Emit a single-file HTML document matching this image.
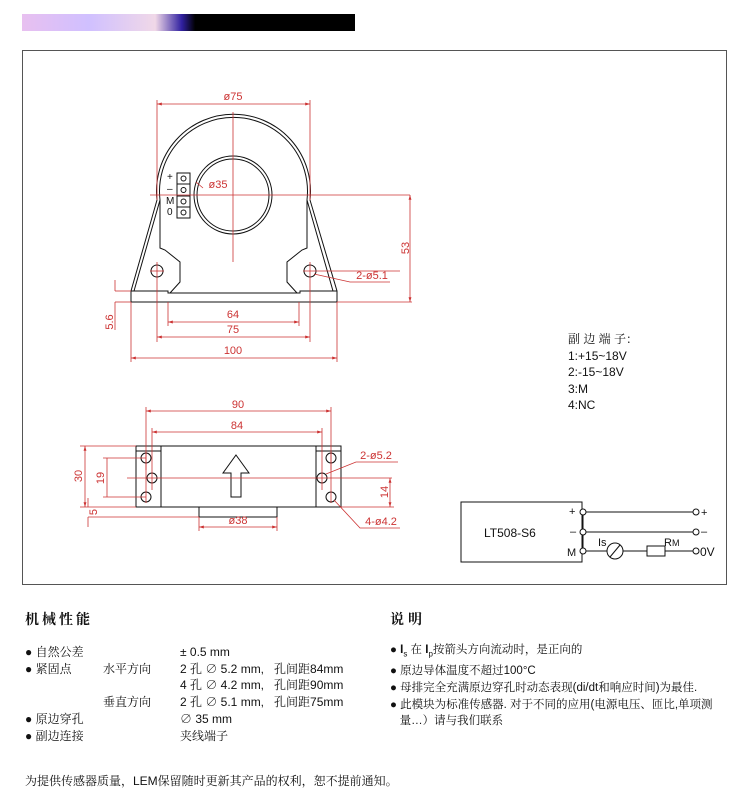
<!DOCTYPE html>
<html><head><meta charset="utf-8"><style>
body{margin:0;background:#fff;width:750px;height:800px;overflow:hidden;font-family:"Liberation Sans","Noto Sans CJK SC",sans-serif}
svg{position:absolute;left:0;top:0}
.t{position:absolute;font-size:12px;color:#111;white-space:nowrap;font-family:"Liberation Sans","Noto Serif CJK SC","Noto Sans CJK SC",sans-serif}
</style></head><body>
<svg width="750" height="800" viewBox="0 0 750 800">
<defs>
<linearGradient id="g" x1="0" x2="1"><stop offset="0" stop-color="#e8c0f0"/><stop offset="0.2" stop-color="#d0c0ff"/><stop offset="0.4" stop-color="#f0d8e8"/><stop offset="0.48" stop-color="#3020a0"/><stop offset="0.52" stop-color="#000"/><stop offset="1" stop-color="#000"/></linearGradient>
<marker id="a" viewBox="0 0 10 10" refX="10" refY="5" markerWidth="6" markerHeight="6" orient="auto-start-reverse"><path d="M0,2 L10,5 L0,8z" fill="#c33"/></marker>
</defs>
<rect x="22" y="14" width="333" height="17" fill="url(#g)"/>
<rect x="22.5" y="50.5" width="704" height="534" fill="none" stroke="#555" stroke-width="1"/>
<g fill="none" stroke="#111" stroke-width="1">
<!-- front view -->
<path d="M157,200 A77,77 0 1 1 310,200 L337,291 L337,302 L131,302 L131,291 Z"/>
<path d="M160,200 A74,74 0 1 1 307,200 L333,291"/>
<path d="M160,200 L134,291"/>
<path d="M131,291 L168,291 L168,293 L300,293 L300,291 L337,291"/>
<path d="M160,200 L160,248 L165,250 L180,262 L180,282 L170,293"/>
<path d="M307,200 L307,248 L302,250 L287,262 L287,282 L297,293"/>
<circle cx="233" cy="195" r="39"/><circle cx="233" cy="195" r="36"/>
<circle cx="157" cy="271" r="6"/><circle cx="310" cy="271" r="6"/>
<rect x="177" y="173" width="13" height="45"/>
<line x1="177" y1="184" x2="190" y2="184"/><line x1="177" y1="196" x2="190" y2="196"/><line x1="177" y1="207" x2="190" y2="207"/>
<circle cx="183.5" cy="178.5" r="2.5"/><circle cx="183.5" cy="190" r="2.5"/><circle cx="183.5" cy="201.5" r="2.5"/><circle cx="183.5" cy="212.5" r="2.5"/>
<!-- top view -->
<rect x="136" y="446" width="205" height="61"/>
<line x1="161" y1="446" x2="161" y2="507"/><line x1="316" y1="446" x2="316" y2="507"/>
<line x1="136" y1="451" x2="161" y2="451"/><line x1="316" y1="451" x2="341" y2="451"/>
<rect x="199" y="507" width="78" height="10"/>
<circle cx="146" cy="458" r="5"/><circle cx="152" cy="478" r="5"/><circle cx="146" cy="497" r="5"/>
<circle cx="331" cy="458" r="5"/><circle cx="322" cy="478" r="5"/><circle cx="331" cy="497" r="5"/>
<path d="M236,455 L249,473 L241,473 L241,497 L231,497 L231,473 L223,473 Z"/>
<!-- circuit -->
<rect x="461" y="502" width="121" height="60"/>
<line x1="583" y1="512" x2="693" y2="512"/><line x1="583" y1="532" x2="693" y2="532"/>
<line x1="583" y1="512" x2="583" y2="551"/>
<line x1="583" y1="551" x2="607" y2="551"/><line x1="623" y1="551" x2="647" y2="551"/><line x1="665" y1="551" x2="693" y2="551"/>
<circle cx="615" cy="551" r="8"/><line x1="610" y1="557" x2="620" y2="545"/>
<rect x="647" y="546" width="18" height="10"/>
</g>
<g fill="#fff" stroke="#111"><circle cx="583" cy="512" r="3"/><circle cx="583" cy="532" r="3"/><circle cx="583" cy="551" r="3"/><circle cx="696" cy="512" r="3"/><circle cx="696" cy="532" r="3"/><circle cx="696" cy="551" r="3"/></g>
<g stroke="#c33" stroke-width="0.8" fill="none">
<line x1="157" y1="104" x2="310" y2="104" marker-start="url(#a)" marker-end="url(#a)"/>
<line x1="157" y1="100" x2="157" y2="200"/><line x1="310" y1="100" x2="310" y2="200"/>
<line x1="233" y1="112" x2="233" y2="262"/><line x1="150" y1="195" x2="410" y2="195"/>
<line x1="337" y1="302" x2="412" y2="302"/>
<line x1="410" y1="195" x2="410" y2="302" marker-start="url(#a)" marker-end="url(#a)"/>
<line x1="157" y1="262" x2="157" y2="342"/><line x1="310" y1="262" x2="310" y2="342"/>
<line x1="150" y1="271" x2="164" y2="271"/><line x1="303" y1="271" x2="400" y2="271"/>
<path d="M314,274 L350,282 L390,282"/>
<line x1="168" y1="302" x2="168" y2="326"/><line x1="299" y1="302" x2="299" y2="326"/>
<line x1="168" y1="322" x2="299" y2="322" marker-start="url(#a)" marker-end="url(#a)"/>
<line x1="157" y1="337" x2="310" y2="337" marker-start="url(#a)" marker-end="url(#a)"/>
<line x1="131" y1="302" x2="131" y2="362"/><line x1="337" y1="302" x2="337" y2="362"/>
<line x1="131" y1="358" x2="337" y2="358" marker-start="url(#a)" marker-end="url(#a)"/>
<line x1="115" y1="291" x2="131" y2="291"/><line x1="115" y1="302" x2="131" y2="302"/>
<line x1="115" y1="280" x2="115" y2="291"/><line x1="115" y1="302" x2="115" y2="330"/>
<path d="M203,188 L196,182"/>
<line x1="146" y1="407" x2="146" y2="470"/><line x1="331" y1="407" x2="331" y2="470"/>
<line x1="146" y1="411" x2="331" y2="411" marker-start="url(#a)" marker-end="url(#a)"/>
<line x1="152" y1="428" x2="152" y2="490"/><line x1="322" y1="428" x2="322" y2="490"/>
<line x1="152" y1="432" x2="322" y2="432" marker-start="url(#a)" marker-end="url(#a)"/>
<line x1="127" y1="478" x2="392" y2="478"/>
<line x1="146" y1="452" x2="146" y2="503"/><line x1="331" y1="452" x2="331" y2="503"/>
<line x1="80" y1="446" x2="136" y2="446"/><line x1="80" y1="507" x2="136" y2="507"/>
<line x1="85" y1="446" x2="85" y2="507" marker-start="url(#a)" marker-end="url(#a)"/>
<line x1="103" y1="458" x2="146" y2="458"/><line x1="103" y1="497" x2="146" y2="497"/>
<line x1="107" y1="458" x2="107" y2="497"/>
<line x1="341" y1="507" x2="394" y2="507"/>
<line x1="390" y1="478" x2="390" y2="507" marker-start="url(#a)" marker-end="url(#a)"/>
<line x1="88" y1="498" x2="88" y2="507"/><line x1="88" y1="517" x2="88" y2="527"/><line x1="88" y1="517" x2="199" y2="517"/>
<line x1="199" y1="517" x2="199" y2="531"/><line x1="277" y1="517" x2="277" y2="531"/>
<line x1="199" y1="527" x2="277" y2="527" marker-start="url(#a)" marker-end="url(#a)"/>
<path d="M326,474 L356,462 L398,462"/>
<path d="M334,500 L360,528 L400,528"/>
</g>
<g fill="#c33" font-size="11" font-family="Liberation Sans,sans-serif" text-anchor="middle">
<text x="233" y="100">ø75</text><text x="218" y="188">ø35</text>
<text x="372" y="279">2-ø5.1</text>
<text x="233" y="318">64</text><text x="233" y="333">75</text><text x="233" y="354">100</text>
<text transform="translate(409,248) rotate(-90)">53</text>
<text transform="translate(113,322) rotate(-90)">5.6</text>
<text x="238" y="408">90</text><text x="237" y="429">84</text>
<text transform="translate(82,476) rotate(-90)">30</text>
<text transform="translate(104,478) rotate(-90)">19</text>
<text transform="translate(388,492) rotate(-90)">14</text>
<text transform="translate(97,512) rotate(-90)">5</text>
<text x="238" y="524">ø38</text>
<text x="376" y="459">2-ø5.2</text><text x="381" y="525">4-ø4.2</text>
</g>
<g fill="#111" font-size="10" font-family="Liberation Sans,sans-serif">
<text x="167" y="180">+</text><text x="167" y="192">–</text><text x="166" y="204">M</text><text x="167" y="215">0</text>
<text x="484" y="537" font-size="12">LT508-S6</text>
<text x="569" y="515" font-size="11">+</text><text x="570" y="535" font-size="11">–</text><text x="567" y="556" font-size="11">M</text>
<text x="701" y="516" font-size="11">+</text><text x="701" y="535" font-size="11">–</text><text x="700" y="556" font-size="12">0V</text>
<text x="598" y="546" font-size="11">Is</text><text x="664" y="546" font-size="11">R<tspan font-size="9">M</tspan></text>
</g>
</svg>
<div class="t" style="left:568px;top:331px;line-height:16.5px;font-size:12px">副 边 端 子：<br>1:+15~18V<br>2:-15~18V<br>3:M<br>4:NC</div>
<div class="t" style="left:25px;top:609px;font-size:14px;font-weight:bold;letter-spacing:3px">机械性能</div>
<div class="t" style="left:390px;top:609px;font-size:14px;font-weight:bold;letter-spacing:4px">说明</div>
<div class="t" style="left:25px;top:644px;line-height:16.7px;font-size:12px">
● 自然公差<br>● 紧固点<br><br><br>● 原边穿孔<br>● 副边连接</div>
<div class="t" style="left:103px;top:644px;line-height:16.7px;font-size:12px"><br>水平方向<br><br>垂直方向</div>
<div class="t" style="left:180px;top:644px;line-height:16.7px;font-size:12px">± 0.5 mm<br>2 孔 ∅ 5.2 mm,&nbsp;&nbsp; 孔间距84mm<br>4 孔 ∅ 4.2 mm,&nbsp;&nbsp; 孔间距90mm<br>2 孔 ∅ 5.1 mm,&nbsp;&nbsp; 孔间距75mm<br>∅ 35 mm<br>夹线端子</div>
<div class="t" style="left:390px;top:642px;line-height:16.8px;font-size:11.5px">● <b>I</b><sub style="font-size:8px">s</sub> 在 <b>I</b><sub style="font-size:8px">p</sub>按箭头方向流动时，是正向的<br>● 原边导体温度不超过100°C<br>● 母排完全充满原边穿孔时动态表现(di/dt和响应时间)为最佳.<br>● 此模块为标准传感器. 对于不同的应用(电源电压、匝比,单项测<br>&nbsp;&nbsp;&nbsp;量…）请与我们联系</div>
<div class="t" style="left:25px;top:772px;font-size:12px">为提供传感器质量，LEM保留随时更新其产品的权利，恕不提前通知。</div>
</body></html>
